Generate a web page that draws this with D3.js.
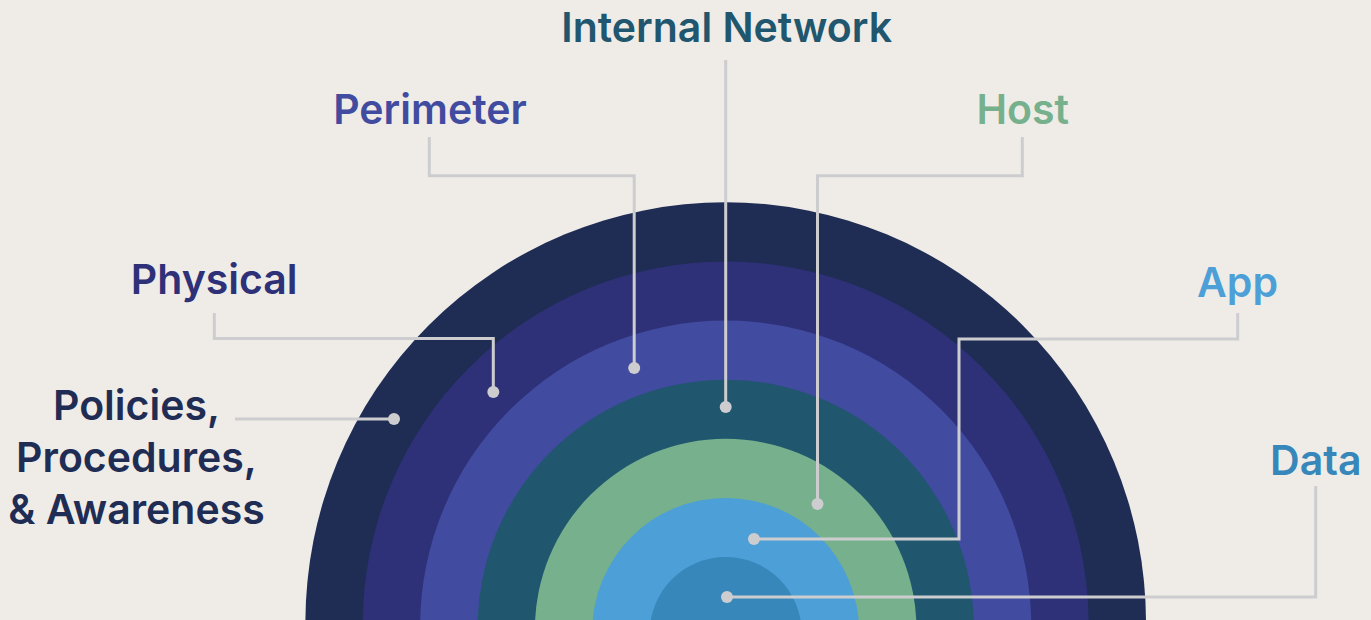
<!DOCTYPE html>
<html>
<head>
<meta charset="utf-8">
<script src="https://cdn.jsdelivr.net/npm/d3@7"></script>
<style>
  html, body { margin: 0; padding: 0; background: #efece7; }
  svg { display: block; }
  .label { font-family: Inter, "Open Sans", sans-serif; font-weight: 600; }
</style>
</head>
<body>
<div id="chart"></div>
<script>
// layers, from the innermost ring outwards
const layers = ["Data", "App", "Host", "Internal Network", "Perimeter", "Physical", "Policies, Procedures, & Awareness"]
const labelLines = [["Data"], ["App"], ["Host"], ["Internal Network"], ["Perimeter"], ["Physical"], ["Policies,", "Procedures,", "& Awareness"]]
const ringColors = ["#3787bb", "#4d9fd7", "#76b08c", "#20566e", "#414ba0", "#2e3178", "#1f2d55"]

const width = 1371, height = 620

let svg = d3.select("#chart")
  .append("svg")
  .attr("width", width)
  .attr("height", height)
  .attr("viewBox", [0, 0, width, height].join(" "))

svg.append("rect").attr("width", width).attr("height", height).attr("fill", "#efece7")

// ring index -> radius / centre
let r = d3.scaleLinear().domain([0, layers.length - 1]).range([76, 420.3])
let cy = d3.scaleLinear().domain([0, layers.length - 1]).range([633, 622.6])
let cx = 725.7

let arc = d3.arc()
  .innerRadius(0)
  .outerRadius(function(d) { return r(d.i) })
  .startAngle(0)
  .endAngle(2 * Math.PI)

let rings = layers.map(function(name, i) { return {name: name, i: i} }).reverse()

svg.selectAll(".ring")
  .data(rings)
  .enter().append("path")
  .attr("class", "ring")
  .attr("transform", function(d) { return "translate(" + cx + "," + cy(d.i) + ")" })
  .attr("d", arc)
  .attr("fill", function(d) { return ringColors[d.i] })

// callout layout: leader path points (label end -> dot) and label anchor
const callouts = [
  {pts: [[1315.7, 486], [1315.7, 597], [727, 597]], label: [1315.8, 475]},
  {pts: [[1237.7, 313], [1237.7, 339], [959, 339], [959, 539], [754, 539]], label: [1237.5, 296.5]},
  {pts: [[1022.3, 137], [1022.3, 175.7], [817.5, 175.7], [817.5, 504]], label: [1022.8, 124]},
  {pts: [[725.7, 60], [725.7, 407]], label: [726.7, 41.7]},
  {pts: [[429.3, 137], [429.3, 175.7], [634.2, 175.7], [634.2, 368]], label: [430, 124.3]},
  {pts: [[214.3, 313], [214.3, 338.5], [493.3, 338.5], [493.3, 392]], label: [214.2, 294.3]},
  {pts: [[235, 419], [394, 419]], label: [136.5, 420]}
]

let line = d3.line()

let leaders = svg.selectAll(".leader")
  .data(callouts)
  .enter().append("g")
  .attr("class", "leader")

leaders.append("path")
  .attr("d", function(d) { return line(d.pts) })
  .attr("fill", "none")
  .attr("stroke", "#cdcdd0")
  .attr("stroke-width", 3)

leaders.append("circle")
  .attr("cx", function(d) { return d.pts[d.pts.length - 1][0] })
  .attr("cy", function(d) { return d.pts[d.pts.length - 1][1] })
  .attr("r", 6)
  .attr("fill", "#cdcdd0")

let labels = svg.selectAll(".label")
  .data(callouts)
  .enter().append("text")
  .attr("class", "label")
  .attr("text-anchor", "middle")
  .attr("font-size", 41)
  .attr("fill", function(d, i) { return ringColors[i] })

labels.selectAll("tspan")
  .data(function(d, i) { return labelLines[i].map(function(t) { return {t: t, x: d.label[0], y: d.label[1]} }) })
  .enter().append("tspan")
  .attr("x", function(d) { return d.x })
  .attr("y", function(d, j) { return d.y + j * 52 })
  .text(function(d) { return d.t })
</script>
</body>
</html>
